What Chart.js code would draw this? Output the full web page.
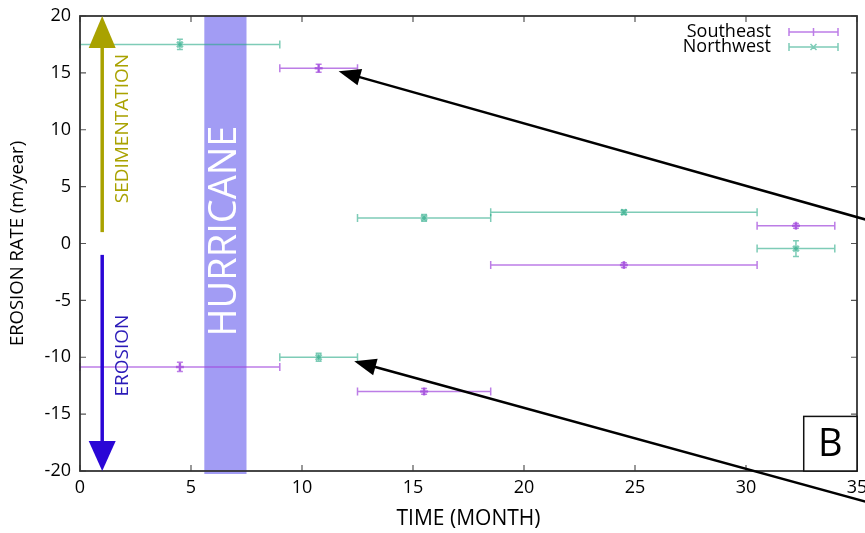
<!DOCTYPE html>
<html>
<head>
<meta charset="utf-8">
<script src="https://cdn.jsdelivr.net/npm/chart.js@4.4.1/dist/chart.umd.min.js"></script>
<style>
  html, body { margin: 0; padding: 0; background: #fff; }
</style>
</head>
<body>
<canvas id="chart" width="865" height="533"></canvas>
<script>
// ---- data ----
const months = [4.5, 10.75, 15.5, 24.5, 32.25];
const monthStart = [0, 9, 12.5, 18.5, 30.5];
const monthEnd = [9, 12.5, 18.5, 30.5, 34];
const southeast = [-10.85, 15.4, -13.0, -1.9, 1.55];
const southeastErr = [0.4, 0.35, 0.25, 0.2, 0.2];
const northwest = [17.5, -10.0, 2.25, 2.75, -0.45];
const northwestErr = [0.45, 0.35, 0.3, 0.2, 0.7];
const xTicks = [0, 5, 10, 15, 20, 25, 30, 35];
const yTicks = [-20, -15, -10, -5, 0, 5, 10, 15, 20];
const hurricane = [5.6, 7.5];

const FONT = '"Open Sans", "Noto Sans", sans-serif';
const PURPLE = "rgba(160, 70, 220, 0.7)";
const GREEN = "rgba(40, 170, 135, 0.6)";

function arrow(ctx, x1, y1, x2, y2, len, wid, color, lw) {
  const a = Math.atan2(y2 - y1, x2 - x1);
  const bx = x2 - len * Math.cos(a), by = y2 - len * Math.sin(a);
  ctx.save();
  ctx.strokeStyle = color;
  ctx.fillStyle = color;
  ctx.lineWidth = lw;
  ctx.beginPath();
  ctx.moveTo(x1, y1);
  ctx.lineTo(bx + 2 * Math.cos(a), by + 2 * Math.sin(a));
  ctx.stroke();
  ctx.beginPath();
  ctx.moveTo(x2, y2);
  ctx.lineTo(bx + (wid / 2) * Math.sin(a), by - (wid / 2) * Math.cos(a));
  ctx.lineTo(bx - (wid / 2) * Math.sin(a), by + (wid / 2) * Math.cos(a));
  ctx.closePath();
  ctx.fill();
  ctx.restore();
}

function vText(ctx, text, x, y, font, color) {
  ctx.save();
  ctx.translate(x, y);
  ctx.rotate(-Math.PI / 2);
  ctx.font = font;
  ctx.fillStyle = color;
  ctx.textAlign = "center";
  ctx.textBaseline = "middle";
  ctx.fillText(text, 0, 0);
  ctx.restore();
}

// band, error bars (under the points)
const underlay = {
  id: "underlay",
  beforeDatasetsDraw(chart) {
    const { ctx, chartArea: a, scales: { x, y } } = chart;
    const x0 = x.getPixelForValue(hurricane[0]);
    const x1 = x.getPixelForValue(hurricane[1]);
    ctx.save();
    ctx.fillStyle = "#a29cf4";
    ctx.fillRect(x0, a.top, x1 - x0, a.bottom - a.top + 3);
    ctx.restore();
    vText(ctx, "HURRICANE", (x0 + x1) / 2, y.getPixelForValue(1.1), "38px " + FONT, "#fff");

    chart.data.datasets.forEach((ds) => {
      ctx.save();
      ctx.strokeStyle = ds.borderColor;
      ctx.lineWidth = 1.5;
      ds.data.forEach((p, i) => {
        const px = x.getPixelForValue(p.x);
        const py = y.getPixelForValue(p.y);
        const xl = x.getPixelForValue(ds.xLow[i]);
        const xh = x.getPixelForValue(ds.xHigh[i]);
        const ya = y.getPixelForValue(p.y + ds.yErr[i]);
        const yb = y.getPixelForValue(p.y - ds.yErr[i]);
        ctx.beginPath();
        ctx.moveTo(xl, py); ctx.lineTo(xh, py);
        ctx.moveTo(xl, py - 4); ctx.lineTo(xl, py + 4);
        ctx.moveTo(xh, py - 4); ctx.lineTo(xh, py + 4);
        ctx.moveTo(px, ya); ctx.lineTo(px, yb);
        ctx.moveTo(px - 3, ya); ctx.lineTo(px + 3, ya);
        ctx.moveTo(px - 3, yb); ctx.lineTo(px + 3, yb);
        ctx.stroke();
      });
      ctx.restore();
    });
  }
};

// frame, inward ticks, annotations, legend
const overlay = {
  id: "overlay",
  afterDraw(chart) {
    const { ctx, chartArea: a, scales: { x, y } } = chart;
    ctx.save();
    ctx.strokeStyle = "#555";
    ctx.lineWidth = 1.2;
    ctx.beginPath();
    xTicks.forEach((v) => {
      const px = x.getPixelForValue(v);
      ctx.moveTo(px, a.bottom); ctx.lineTo(px, a.bottom - 6);
      ctx.moveTo(px, a.top); ctx.lineTo(px, a.top + 6);
    });
    yTicks.forEach((v) => {
      const py = y.getPixelForValue(v);
      ctx.moveTo(a.left, py); ctx.lineTo(a.left + 6, py);
      ctx.moveTo(a.right, py); ctx.lineTo(a.right - 6, py);
    });
    ctx.stroke();
    ctx.strokeStyle = "#333";
    ctx.lineWidth = 1.8;
    ctx.strokeRect(a.left, a.top, a.right - a.left, a.bottom - a.top);
    ctx.restore();

    // sedimentation / erosion arrows
    const ax = x.getPixelForValue(1);
    arrow(ctx, ax, y.getPixelForValue(1), ax, y.getPixelForValue(20), 32, 27, "#a9a200", 3.5);
    arrow(ctx, ax, y.getPixelForValue(-1), ax, y.getPixelForValue(-20), 30, 27, "#2a06d6", 3.5);
    vText(ctx, "SEDIMENTATION", x.getPixelForValue(1.92), y.getPixelForValue(10.1), "19px " + FONT, "#a9a200");
    vText(ctx, "EROSION", x.getPixelForValue(1.92), y.getPixelForValue(-9.85), "19px " + FONT, "#2a1ab8");

    // black pointer arrows
    arrow(ctx, x.getPixelForValue(35.4), y.getPixelForValue(2.1),
      x.getPixelForValue(11.65), y.getPixelForValue(15.15), 22, 17, "#000", 2.5);
    arrow(ctx, x.getPixelForValue(35.4), y.getPixelForValue(-22.7),
      x.getPixelForValue(12.35), y.getPixelForValue(-10.35), 22, 17, "#000", 2.5);

    // panel letter
    const bx0 = x.getPixelForValue(32.6), bx1 = x.getPixelForValue(35);
    const by0 = y.getPixelForValue(-15.2), by1 = y.getPixelForValue(-20);
    ctx.save();
    ctx.fillStyle = "#fff";
    ctx.fillRect(bx0, by0, bx1 - bx0, by1 - by0);
    ctx.strokeStyle = "#111";
    ctx.lineWidth = 1.5;
    ctx.strokeRect(bx0, by0, bx1 - bx0, by1 - by0);
    ctx.fillStyle = "#000";
    ctx.font = "38px " + FONT;
    ctx.textAlign = "center";
    ctx.textBaseline = "middle";
    ctx.fillText("B", (bx0 + bx1) / 2, (by0 + by1) / 2 + 1);
    ctx.restore();

    // legend
    ctx.save();
    ctx.font = "18px " + FONT;
    ctx.textAlign = "right";
    ctx.textBaseline = "middle";
    ctx.fillStyle = "#000";
    chart.data.datasets.forEach((ds, i) => {
      const ly = a.top + 16 + i * 15;
      ctx.fillText(ds.label, a.right - 86, ly);
      const l0 = a.right - 68, l1 = a.right - 19, lm = (l0 + l1) / 2;
      ctx.strokeStyle = ds.borderColor;
      ctx.lineWidth = 1.5;
      ctx.beginPath();
      ctx.moveTo(l0, ly); ctx.lineTo(l1, ly);
      ctx.moveTo(l0, ly - 4); ctx.lineTo(l0, ly + 4);
      ctx.moveTo(l1, ly - 4); ctx.lineTo(l1, ly + 4);
      if (i === 0) {
        ctx.moveTo(lm, ly - 4); ctx.lineTo(lm, ly + 4);
      } else {
        ctx.moveTo(lm - 3, ly - 3); ctx.lineTo(lm + 3, ly + 3);
        ctx.moveTo(lm - 3, ly + 3); ctx.lineTo(lm + 3, ly - 3);
      }
      ctx.stroke();
    });
    ctx.restore();
  }
};

new Chart(document.getElementById("chart"), {
  type: "scatter",
  data: {
    datasets: [
      {
        label: "Southeast",
        data: months.map((m, i) => ({ x: m, y: southeast[i] })),
        xLow: monthStart, xHigh: monthEnd, yErr: southeastErr,
        borderColor: PURPLE,
        backgroundColor: PURPLE,
        pointStyle: "cross",
        pointRadius: 4,
        pointBorderWidth: 2.5
      },
      {
        label: "Northwest",
        data: months.map((m, i) => ({ x: m, y: northwest[i] })),
        xLow: monthStart, xHigh: monthEnd, yErr: northwestErr,
        borderColor: GREEN,
        backgroundColor: GREEN,
        pointStyle: "crossRot",
        pointRadius: 4,
        pointBorderWidth: 2.5
      }
    ]
  },
  options: {
    responsive: false,
    animation: false,
    devicePixelRatio: 1,
    layout: { padding: { top: 16, right: 8, left: 0, bottom: 0 } },
    plugins: { legend: { display: false }, tooltip: { enabled: false } },
    scales: {
      x: {
        min: 0, max: 35,
        afterBuildTicks: (s) => { s.ticks = xTicks.map((v) => ({ value: v })); },
        afterFit: (s) => { s.height = 62; s.paddingLeft = 0; s.paddingRight = 0; },
        grid: { display: false, drawTicks: false },
        border: { display: false },
        ticks: { font: { family: FONT, size: 18 }, color: "#000", padding: 6, maxRotation: 0 },
        title: { display: true, text: "TIME (MONTH)", font: { family: FONT, size: 21 }, color: "#000", padding: { top: 0, bottom: 1 } }
      },
      y: {
        min: -20, max: 20,
        afterBuildTicks: (s) => { s.ticks = yTicks.map((v) => ({ value: v })); },
        afterFit: (s) => { s.width = 80; s.paddingTop = 0; s.paddingBottom = 0; },
        grid: { display: false, drawTicks: false },
        border: { display: false },
        ticks: { font: { family: FONT, size: 18 }, color: "#000", padding: 9 },
        title: { display: true, text: "EROSION RATE (m/year)", font: { family: FONT, size: 18.5 }, color: "#000", padding: { top: 7, bottom: 0 } }
      }
    }
  },
  plugins: [underlay, overlay]
});
</script>
</body>
</html>
